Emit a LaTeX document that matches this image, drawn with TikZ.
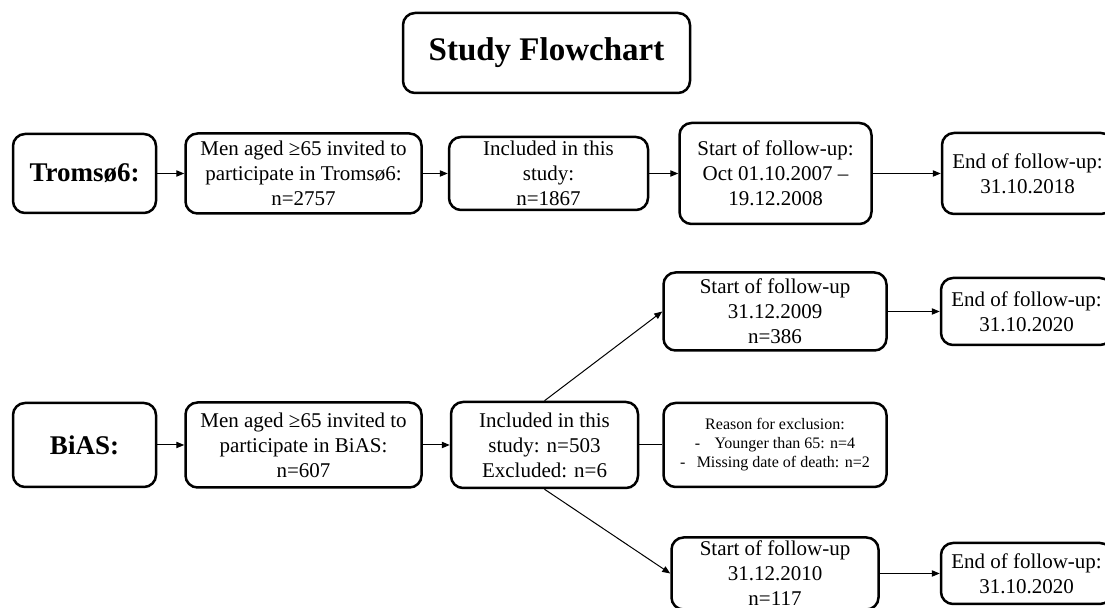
\documentclass[tikz,border=0pt]{standalone}
\usepackage{fontspec}
\setmainfont{Liberation Serif}
\usetikzlibrary{arrows.meta, positioning}

\begin{document}
\begin{tikzpicture}[
    x=0.5pt, y=-0.5pt,
    box/.style={draw, rectangle, rounded corners=6pt, line width=1.25pt, align=center, inner sep=2pt, font=\fontsize{10.5}{12.5}\selectfont},
    cohort/.style={box, minimum width=71.5pt, font=\fontsize{13.5}{16}\selectfont\bfseries},
    arrow/.style={-{Triangle[length=4pt, width=3.2pt]}, line width=0.5pt},
    link/.style={line width=0.5pt}
]
    \useasboundingbox (0,0) rectangle (1105,608);

    \node[box, minimum width=143.5pt, minimum height=40pt, font=\fontsize{16.5}{20}\selectfont\bfseries] (title) at (546.5,53) {Study Flowchart};

    % Tromso6 row
    \node[cohort, minimum height=39.5pt] (tromso) at (84.5,173.5) {Troms\o6:};
    \node[box, right=13.5pt of tromso, minimum width=118pt, minimum height=40pt] (invt) {Men aged ≥65 invited to\\participate in Troms\o6:\\n=2757};
    \node[box, right=12.5pt of invt, minimum width=99.5pt, minimum height=36.5pt] (inct) {Included in this\\study:\\n=1867};
    \node[box, right=14.5pt of inct, minimum width=96pt, minimum height=50.5pt] (startt) {Start of follow-up:\\Oct 01.10.2007 --\\19.12.2008};
    \node[box, right=34pt of startt, minimum width=85.5pt, minimum height=40.5pt] (endt) {End of follow-up:\\31.10.2018};

    % BiAS row
    \node[cohort, minimum height=42pt] (bias) at (84.5,445) {BiAS:};
    \node[box, right=13.5pt of bias, minimum width=118pt, minimum height=42.5pt] (invb) {Men aged ≥65 invited to\\participate in BiAS:\\n=607};
    \node[box, right=13.5pt of invb, minimum width=93.5pt, minimum height=43pt] (incb) {Included in this\\study: n=503\\Excluded: n=6};
    \node[box, right=11.5pt of incb, minimum width=111.5pt, minimum height=42pt, font=\fontsize{8}{9.5}\selectfont] (reason) {Reason for exclusion:\\-\hspace{0.9em}Younger than 65: n=4\\-\hspace{0.7em}Missing date of death: n=2};
    \node[box, above=25pt of reason, minimum width=111.5pt, minimum height=39pt] (startb) {Start of follow-up\\31.12.2009\\n=386};
    \node[box, below=24pt of reason, minimum width=103.5pt, minimum height=36pt, inner sep=1pt] (startc) {Start of follow-up\\31.12.2010\\n=117};
    \node[box, right=26pt of startb, minimum width=85.5pt, minimum height=33.5pt] (endb) {End of follow-up:\\31.10.2020};
    \node[box, right=30pt of startc, minimum width=85.5pt, minimum height=30.5pt] (endc) {End of follow-up:\\31.10.2020};

    \draw[arrow] (tromso) -- (invt);
    \draw[arrow] (invt) -- (inct);
    \draw[arrow] (inct) -- (startt);
    \draw[arrow] (startt) -- (endt);

    \draw[arrow] (bias) -- (invb);
    \draw[arrow] (invb) -- (incb);
    \draw[link] (incb) -- (reason);
    \draw[arrow] (incb.north) -- (startb.west);
    \draw[arrow] (incb.south) -- (startc.west);
    \draw[arrow] (startb) -- (endb);
    \draw[arrow] (startc) -- (endc);
\end{tikzpicture}
\end{document}
